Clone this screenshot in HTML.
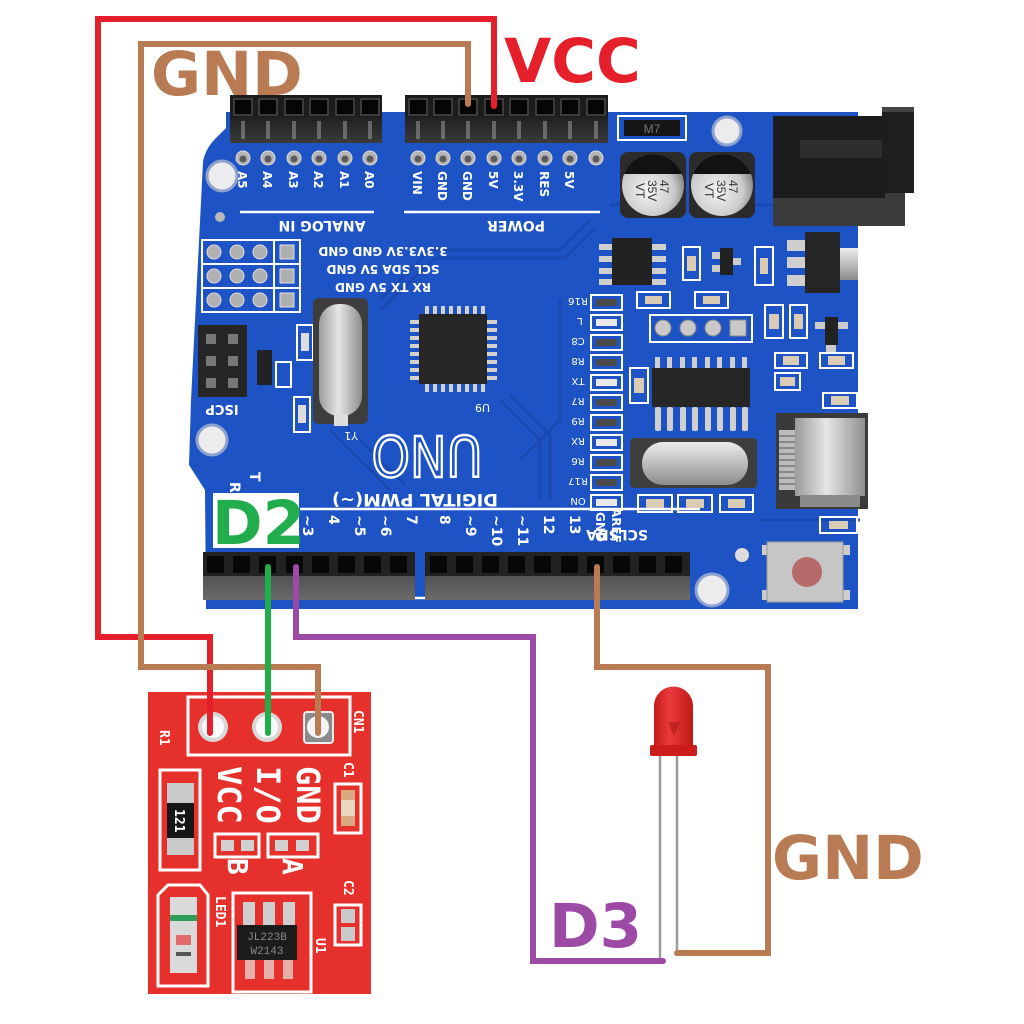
<!DOCTYPE html>
<html><head><meta charset="utf-8"><style>
html,body{margin:0;padding:0;background:#fff;}
svg{display:block;}
.lbl{font-family:"DejaVu Sans","Liberation Sans",sans-serif;font-weight:bold;}
.sk{font-family:"DejaVu Sans","Liberation Sans",sans-serif;fill:#fff;}
.mono{font-family:"DejaVu Sans Mono","Liberation Mono",monospace;fill:#fff;font-weight:bold;}
</style></head><body>
<svg width="1024" height="1024" viewBox="0 0 1024 1024" xmlns="http://www.w3.org/2000/svg">
<defs>
<linearGradient id="silv" x1="0" y1="0" x2="0" y2="1"><stop offset="0" stop-color="#ececec"/><stop offset="0.5" stop-color="#bdbdbd"/><stop offset="1" stop-color="#8c8c8c"/></linearGradient>
<linearGradient id="silvh" x1="0" y1="0" x2="1" y2="0"><stop offset="0" stop-color="#9a9a9a"/><stop offset="0.45" stop-color="#e6e6e6"/><stop offset="1" stop-color="#8e8e8e"/></linearGradient>
<radialGradient id="cap" cx="0.42" cy="0.6" r="0.6"><stop offset="0" stop-color="#f4f4f4"/><stop offset="0.7" stop-color="#cbcbcb"/><stop offset="1" stop-color="#8a8a8a"/></radialGradient>
<linearGradient id="ledg" x1="0" y1="0" x2="1" y2="0"><stop offset="0" stop-color="#c41a1a"/><stop offset="0.4" stop-color="#ea3b3b"/><stop offset="1" stop-color="#c01818"/></linearGradient>
<linearGradient id="hdr" x1="0" y1="0" x2="0" y2="1"><stop offset="0" stop-color="#3c3c3c"/><stop offset="1" stop-color="#6a6a6a"/></linearGradient>
<linearGradient id="hdrt" x1="0" y1="0" x2="0" y2="1"><stop offset="0" stop-color="#202020"/><stop offset="1" stop-color="#3a3a3a"/></linearGradient>
</defs>
<rect width="1024" height="1024" fill="#fff"/>

<!-- ===== ARDUINO BOARD ===== -->
<path d="M226,112 L858,112 L858,609 L206,609 L205,490 L189,465 L191,400 L203,162 Q205,150 214,140 L226,128 Z" fill="#1e53c5"/>
<g stroke="#1a48b0" stroke-width="3" fill="none" opacity="0.9">
<path d="M380,300 L430,250 L560,250 L590,220"/>
<path d="M380,310 L435,258 L565,258 L595,228"/>
<path d="M500,400 L540,440 L540,500"/>
<path d="M510,395 L550,435 L550,500"/>
<path d="M330,430 L390,490"/><path d="M345,425 L405,485"/>
<path d="M560,300 L560,420 L520,460"/>
<path d="M760,520 L860,520"/>
<path d="M610,205 L780,205"/>
</g>
<g stroke="#fff" stroke-width="2.5">
<line x1="240" y1="212" x2="374" y2="212"/>
<line x1="404" y1="212" x2="600" y2="212"/>
<line x1="300" y1="509" x2="700" y2="509"/>
<line x1="210" y1="598" x2="690" y2="598"/>
</g>

<circle cx="222" cy="176" r="15" fill="#ececec" stroke="#8ea2cf" stroke-width="3"/>
<circle cx="212" cy="440" r="15" fill="#ececec" stroke="#8ea2cf" stroke-width="3"/>
<circle cx="727" cy="131" r="14" fill="#ececec" stroke="#8ea2cf" stroke-width="3"/>
<circle cx="712" cy="590" r="16" fill="#ececec" stroke="#8ea2cf" stroke-width="3"/>
<circle cx="220" cy="217" r="5" fill="#b8b8b8"/>
<circle cx="742" cy="555" r="7" fill="#dcdcdc"/>

<rect x="230" y="95" width="152" height="48" fill="#1c1c1c"/>
<rect x="230" y="117" width="152" height="26" fill="url(#hdrt)"/>
<rect x="405" y="95" width="203" height="48" fill="#1c1c1c"/>
<rect x="405" y="117" width="203" height="26" fill="url(#hdrt)"/>
<g fill="#060606" stroke="#4a4a4a" stroke-width="1.5">
<rect x="234" y="99" width="18" height="16"/><rect x="259" y="99" width="18" height="16"/><rect x="285" y="99" width="18" height="16"/><rect x="310" y="99" width="18" height="16"/><rect x="336" y="99" width="18" height="16"/><rect x="361" y="99" width="18" height="16"/>
<rect x="409" y="99" width="18" height="16"/><rect x="434" y="99" width="18" height="16"/><rect x="459" y="99" width="18" height="16"/><rect x="485" y="99" width="18" height="16"/><rect x="510" y="99" width="18" height="16"/><rect x="536" y="99" width="18" height="16"/><rect x="561" y="99" width="18" height="16"/><rect x="587" y="99" width="18" height="16"/>
</g>
<g fill="#9a9a9a" opacity="0.55">
<rect x="241" y="121" width="4" height="18"/><rect x="266" y="121" width="4" height="18"/><rect x="292" y="121" width="4" height="18"/><rect x="317" y="121" width="4" height="18"/><rect x="343" y="121" width="4" height="18"/><rect x="368" y="121" width="4" height="18"/>
<rect x="416" y="121" width="4" height="18"/><rect x="441" y="121" width="4" height="18"/><rect x="466" y="121" width="4" height="18"/><rect x="492" y="121" width="4" height="18"/><rect x="517" y="121" width="4" height="18"/><rect x="543" y="121" width="4" height="18"/><rect x="568" y="121" width="4" height="18"/><rect x="594" y="121" width="4" height="18"/>
</g>
<g fill="#b4b4b4" stroke="#dcdcdc" stroke-width="1">
<circle cx="243" cy="158" r="7"/><circle cx="268" cy="158" r="7"/><circle cx="294" cy="158" r="7"/><circle cx="319" cy="158" r="7"/><circle cx="345" cy="158" r="7"/><circle cx="370" cy="158" r="7"/>
<circle cx="418" cy="158" r="7"/><circle cx="443" cy="158" r="7"/><circle cx="468" cy="158" r="7"/><circle cx="494" cy="158" r="7"/><circle cx="519" cy="158" r="7"/><circle cx="545" cy="158" r="7"/><circle cx="570" cy="158" r="7"/><circle cx="596" cy="158" r="7"/>
</g>
<g fill="#5a5a5a">
<circle cx="243" cy="159" r="3.5"/><circle cx="268" cy="159" r="3.5"/><circle cx="294" cy="159" r="3.5"/><circle cx="319" cy="159" r="3.5"/><circle cx="345" cy="159" r="3.5"/><circle cx="370" cy="159" r="3.5"/>
<circle cx="418" cy="159" r="3.5"/><circle cx="443" cy="159" r="3.5"/><circle cx="468" cy="159" r="3.5"/><circle cx="494" cy="159" r="3.5"/><circle cx="519" cy="159" r="3.5"/><circle cx="545" cy="159" r="3.5"/><circle cx="570" cy="159" r="3.5"/><circle cx="596" cy="159" r="3.5"/>
</g>
<g class="sk" font-size="12" font-weight="bold">
<text transform="translate(238,171) rotate(90)">A5</text>
<text transform="translate(263,171) rotate(90)">A4</text>
<text transform="translate(289,171) rotate(90)">A3</text>
<text transform="translate(314,171) rotate(90)">A2</text>
<text transform="translate(340,171) rotate(90)">A1</text>
<text transform="translate(365,171) rotate(90)">A0</text>
<text transform="translate(413,171) rotate(90)">VIN</text>
<text transform="translate(438,171) rotate(90)">GND</text>
<text transform="translate(463,171) rotate(90)">GND</text>
<text transform="translate(489,171) rotate(90)">5V</text>
<text transform="translate(514,171) rotate(90)">3.3V</text>
<text transform="translate(540,171) rotate(90)">RES</text>
<text transform="translate(565,171) rotate(90)">5V</text>
</g>
<g class="sk" font-size="14" font-weight="bold" text-anchor="middle">
<text x="322" y="231" transform="rotate(180 322 226)">ANALOG IN</text>
<text x="516" y="231" transform="rotate(180 516 226)">POWER</text>
</g>

<g fill="none" stroke="#fff" stroke-width="2">
<rect x="202" y="240" width="98" height="72"/>
<line x1="202" y1="264" x2="300" y2="264"/><line x1="202" y1="288" x2="300" y2="288"/>
<line x1="274" y1="240" x2="274" y2="312"/>
</g>
<g fill="#b0b0b0" stroke="#e0e0e0">
<circle cx="214" cy="252" r="7"/><circle cx="237" cy="252" r="7"/><circle cx="260" cy="252" r="7"/>
<circle cx="214" cy="276" r="7"/><circle cx="237" cy="276" r="7"/><circle cx="260" cy="276" r="7"/>
<circle cx="214" cy="300" r="7"/><circle cx="237" cy="300" r="7"/><circle cx="260" cy="300" r="7"/>
<rect x="280" y="245" width="14" height="14"/><rect x="280" y="269" width="14" height="14"/><rect x="280" y="293" width="14" height="14"/>
</g>
<g class="sk" font-size="12" font-weight="bold" text-anchor="middle">
<text x="383" y="257" transform="rotate(180 383 252)">3.3V3.3V GND GND</text>
<text x="383" y="275" transform="rotate(180 383 270)">SCL SDA 5V GND</text>
<text x="383" y="293" transform="rotate(180 383 288)">RX  TX  5V GND</text>
</g>

<rect x="198" y="325" width="49" height="72" fill="#262626"/>
<g fill="#777"><rect x="206" y="334" width="10" height="10"/><rect x="228" y="334" width="10" height="10"/><rect x="206" y="356" width="10" height="10"/><rect x="228" y="356" width="10" height="10"/><rect x="206" y="378" width="10" height="10"/><rect x="228" y="378" width="10" height="10"/></g>
<text class="sk" font-size="13" font-weight="bold" x="222" y="415" text-anchor="middle" transform="rotate(180 222 410)">ISCP</text>
<rect x="257" y="350" width="15" height="35" fill="#222"/>
<rect x="276" y="362" width="15" height="25" fill="none" stroke="#fff" stroke-width="2"/>
<rect x="297" y="325" width="16" height="35" fill="none" stroke="#fff" stroke-width="2"/><rect x="301" y="333" width="8" height="18" fill="#ddd"/>
<rect x="294" y="397" width="16" height="35" fill="none" stroke="#fff" stroke-width="2"/><rect x="298" y="405" width="8" height="18" fill="#ddd"/>
<rect x="313" y="298" width="55" height="126" rx="6" fill="#3d3d3d"/>
<rect x="319" y="304" width="43" height="112" rx="20" fill="url(#silvh)"/>
<rect x="334" y="414" width="14" height="12" fill="#ddd"/>

<g fill="#d0d0d0">
<rect x="425" y="306" width="4" height="9"/><rect x="433" y="306" width="4" height="9"/><rect x="441" y="306" width="4" height="9"/><rect x="449" y="306" width="4" height="9"/><rect x="457" y="306" width="4" height="9"/><rect x="465" y="306" width="4" height="9"/><rect x="473" y="306" width="4" height="9"/><rect x="481" y="306" width="4" height="9"/>
<rect x="425" y="383" width="4" height="9"/><rect x="433" y="383" width="4" height="9"/><rect x="441" y="383" width="4" height="9"/><rect x="449" y="383" width="4" height="9"/><rect x="457" y="383" width="4" height="9"/><rect x="465" y="383" width="4" height="9"/><rect x="473" y="383" width="4" height="9"/><rect x="481" y="383" width="4" height="9"/>
<rect x="410" y="320" width="10" height="4"/><rect x="410" y="328" width="10" height="4"/><rect x="410" y="336" width="10" height="4"/><rect x="410" y="344" width="10" height="4"/><rect x="410" y="352" width="10" height="4"/><rect x="410" y="360" width="10" height="4"/><rect x="410" y="368" width="10" height="4"/><rect x="410" y="376" width="10" height="4"/>
<rect x="487" y="320" width="10" height="4"/><rect x="487" y="328" width="10" height="4"/><rect x="487" y="336" width="10" height="4"/><rect x="487" y="344" width="10" height="4"/><rect x="487" y="352" width="10" height="4"/><rect x="487" y="360" width="10" height="4"/><rect x="487" y="368" width="10" height="4"/><rect x="487" y="376" width="10" height="4"/>
</g>
<rect x="419" y="314" width="68" height="70" fill="#262626"/>
<text class="sk" font-size="11" x="490" y="412" transform="rotate(180 490 408)">U9</text>
<text class="sk" font-size="11" x="358" y="440" transform="rotate(180 358 436)">Y1</text>

<text x="427" y="478" text-anchor="middle" font-family="DejaVu Sans, Liberation Sans, sans-serif" font-size="56" fill="none" stroke="#fff" stroke-width="2.5" textLength="111" lengthAdjust="spacingAndGlyphs" transform="rotate(180 427 457)">UNO</text>
<text class="sk" font-size="17" font-weight="bold" x="415" y="506" text-anchor="middle" textLength="166" lengthAdjust="spacingAndGlyphs" transform="rotate(180 415 500)">DIGITAL PWM(~)</text>
<g class="sk" font-size="14" font-weight="bold">
<text transform="translate(303,515) rotate(90)">~3</text>
<text transform="translate(329,515) rotate(90)">4</text>
<text transform="translate(355,515) rotate(90)">~5</text>
<text transform="translate(381,515) rotate(90)">~6</text>
<text transform="translate(407,515) rotate(90)">7</text>
<text transform="translate(440,515) rotate(90)">8</text>
<text transform="translate(466,515) rotate(90)">~9</text>
<text transform="translate(492,515) rotate(90)">~10</text>
<text transform="translate(518,515) rotate(90)">~11</text>
<text transform="translate(544,515) rotate(90)">12</text>
<text transform="translate(570,515) rotate(90)">13</text>
<text transform="translate(596,512) rotate(90)" font-size="12">GND</text>
<text transform="translate(612,508) rotate(90)" font-size="12">AREF</text>
<text class="sk" x="648" y="540" font-size="14" transform="rotate(180 648 535)">SCLSDA</text>
<text transform="translate(230,482) rotate(90)">R</text>
<text transform="translate(250,472) rotate(90)">T</text>
</g>

<rect x="618" y="116" width="68" height="24" fill="none" stroke="#fff" stroke-width="2"/>
<rect x="624" y="120" width="56" height="16" fill="#151515"/>
<text x="652" y="133" font-size="12" fill="#777" text-anchor="middle" font-family="Liberation Sans, sans-serif">M7</text>
<rect x="620" y="152" width="66" height="66" rx="8" fill="#2b2b2b"/>
<circle cx="653" cy="185" r="31" fill="url(#cap)"/>
<path d="M624,174 A31,31 0 0 1 682,174 Z" fill="#121212"/>
<rect x="689" y="152" width="66" height="66" rx="8" fill="#2b2b2b"/>
<circle cx="722" cy="185" r="31" fill="url(#cap)"/>
<path d="M693,174 A31,31 0 0 1 751,174 Z" fill="#121212"/>
<g font-family="Liberation Sans, sans-serif" font-size="12" fill="#333">
<text transform="translate(660,180) rotate(90)">47</text>
<text transform="translate(648,180) rotate(90)">35V</text>
<text transform="translate(636,183) rotate(90)">VT</text>
<text transform="translate(729,180) rotate(90)">47</text>
<text transform="translate(717,180) rotate(90)">35V</text>
<text transform="translate(705,183) rotate(90)">VT</text>
</g>

<rect x="773" y="188" width="132" height="38" fill="#3b3b3b"/>
<rect x="773" y="116" width="112" height="82" fill="#1c1c1c"/>
<rect x="800" y="140" width="82" height="18" fill="#333" opacity="0.8"/>
<rect x="882" y="107" width="32" height="86" fill="#1e1e1e"/>
<rect x="882" y="107" width="32" height="5" fill="#444"/>

<rect x="612" y="238" width="40" height="47" fill="#222"/>
<g fill="#cfcfcf">
<rect x="599" y="244" width="13" height="6"/><rect x="599" y="256" width="13" height="6"/><rect x="599" y="268" width="13" height="6"/><rect x="599" y="279" width="13" height="6"/>
<rect x="652" y="244" width="14" height="6"/><rect x="652" y="256" width="14" height="6"/><rect x="652" y="268" width="14" height="6"/><rect x="652" y="279" width="14" height="6"/>
</g>
<g fill="none" stroke="#fff" stroke-width="2">
<rect x="683" y="247" width="17" height="33"/>
<rect x="755" y="247" width="18" height="38"/>
<rect x="637" y="292" width="33" height="16"/>
<rect x="695" y="292" width="33" height="16"/>
<rect x="650" y="315" width="102" height="27"/>
<rect x="765" y="305" width="18" height="33"/>
<rect x="790" y="305" width="17" height="33"/>
<rect x="775" y="353" width="32" height="15"/>
<rect x="820" y="353" width="33" height="15"/>
<rect x="775" y="373" width="25" height="17"/>
<rect x="823" y="393" width="34" height="15"/>
<rect x="630" y="368" width="18" height="35"/>
<rect x="638" y="495" width="34" height="17"/>
<rect x="678" y="495" width="34" height="17"/>
<rect x="720" y="495" width="33" height="17"/>
<rect x="820" y="517" width="37" height="16"/>
</g>
<g fill="#d9cbb4">
<rect x="687" y="256" width="9" height="15"/><rect x="760" y="258" width="8" height="16"/>
<rect x="645" y="296" width="17" height="8"/><rect x="703" y="296" width="17" height="8"/>
<rect x="769" y="314" width="10" height="15"/><rect x="794" y="314" width="9" height="15"/>
<rect x="783" y="356" width="16" height="9"/><rect x="828" y="356" width="17" height="9"/>
<rect x="780" y="377" width="15" height="9"/><rect x="831" y="396" width="18" height="9"/>
<rect x="634" y="378" width="10" height="15"/>
<rect x="646" y="499" width="18" height="9"/><rect x="686" y="499" width="18" height="9"/><rect x="728" y="499" width="17" height="9"/>
<rect x="829" y="521" width="19" height="8"/>
</g>
<rect x="720" y="248" width="13" height="27" fill="#222"/>
<rect x="712" y="252" width="8" height="7" fill="#ccc"/><rect x="712" y="265" width="8" height="7" fill="#ccc"/><rect x="733" y="258" width="8" height="7" fill="#ccc"/>
<rect x="805" y="232" width="35" height="61" fill="#252525"/>
<g fill="#cfcfcf"><rect x="787" y="240" width="18" height="11"/><rect x="787" y="257" width="18" height="11"/><rect x="787" y="275" width="18" height="11"/></g>
<rect x="840" y="248" width="18" height="32" fill="url(#silv)"/>
<g fill="#c9c9c9" stroke="#888"><circle cx="663" cy="328" r="8"/><circle cx="688" cy="328" r="8"/><circle cx="713" cy="328" r="8"/><rect x="730" y="320" width="16" height="16"/></g>
<rect x="825" y="317" width="13" height="28" fill="#222"/>
<rect x="815" y="322" width="10" height="7" fill="#ccc"/><rect x="838" y="322" width="10" height="7" fill="#ccc"/><rect x="826" y="345" width="10" height="7" fill="#ccc"/>

<g fill="none" stroke="#fff" stroke-width="2">
<rect x="591" y="295" width="31" height="15"/><rect x="591" y="315" width="31" height="15"/><rect x="591" y="335" width="31" height="15"/><rect x="591" y="355" width="31" height="15"/><rect x="591" y="375" width="31" height="15"/><rect x="591" y="395" width="31" height="15"/><rect x="591" y="415" width="31" height="15"/><rect x="591" y="435" width="31" height="15"/><rect x="591" y="455" width="31" height="15"/><rect x="591" y="475" width="31" height="15"/><rect x="591" y="495" width="31" height="15"/>
</g>
<g fill="#e9e9e9">
<rect x="596" y="319" width="21" height="7"/><rect x="596" y="379" width="21" height="7"/><rect x="596" y="439" width="21" height="7"/><rect x="596" y="499" width="21" height="7"/>
</g>
<g fill="#4a4a4a">
<rect x="596" y="299" width="21" height="7"/><rect x="596" y="339" width="21" height="7"/><rect x="596" y="359" width="21" height="7"/><rect x="596" y="399" width="21" height="7"/><rect x="596" y="419" width="21" height="7"/><rect x="596" y="459" width="21" height="7"/><rect x="596" y="479" width="21" height="7"/>
</g>
<g class="sk" font-size="10" text-anchor="middle">
<text x="578" y="306" transform="rotate(180 578 302)">R16</text>
<text x="580" y="326" transform="rotate(180 580 322)">L</text>
<text x="578" y="346" transform="rotate(180 578 342)">C8</text>
<text x="578" y="366" transform="rotate(180 578 362)">R8</text>
<text x="578" y="386" transform="rotate(180 578 382)">TX</text>
<text x="578" y="406" transform="rotate(180 578 402)">R7</text>
<text x="578" y="426" transform="rotate(180 578 422)">R9</text>
<text x="578" y="446" transform="rotate(180 578 442)">RX</text>
<text x="578" y="466" transform="rotate(180 578 462)">R6</text>
<text x="578" y="486" transform="rotate(180 578 482)">R17</text>
<text x="578" y="506" transform="rotate(180 578 502)">ON</text>
</g>

<g fill="#cfcfcf">
<rect x="655" y="357" width="5" height="13"/><rect x="667" y="357" width="5" height="13"/><rect x="680" y="357" width="5" height="13"/><rect x="692" y="357" width="5" height="13"/><rect x="705" y="357" width="5" height="13"/><rect x="717" y="357" width="5" height="13"/><rect x="730" y="357" width="5" height="13"/><rect x="742" y="357" width="5" height="13"/>
<rect x="655" y="407" width="6" height="24" rx="2"/><rect x="667" y="407" width="6" height="24" rx="2"/><rect x="680" y="407" width="6" height="24" rx="2"/><rect x="692" y="407" width="6" height="24" rx="2"/><rect x="705" y="407" width="6" height="24" rx="2"/><rect x="717" y="407" width="6" height="24" rx="2"/><rect x="730" y="407" width="6" height="24" rx="2"/><rect x="742" y="407" width="6" height="24" rx="2"/>
</g>
<rect x="652" y="368" width="98" height="39" fill="#262626"/>
<rect x="630" y="438" width="127" height="50" rx="4" fill="#3e3e3e"/>
<rect x="642" y="442" width="106" height="43" rx="21" fill="url(#silv)"/>
<rect x="776" y="413" width="92" height="96" fill="#3a3a3a"/>
<rect x="795" y="418" width="70" height="78" fill="url(#silvh)"/>
<rect x="779" y="430" width="16" height="60" fill="#bbb"/>
<g stroke="#555" stroke-width="1"><line x1="779" y1="436" x2="795" y2="436"/><line x1="779" y1="442" x2="795" y2="442"/><line x1="779" y1="448" x2="795" y2="448"/><line x1="779" y1="454" x2="795" y2="454"/><line x1="779" y1="460" x2="795" y2="460"/><line x1="779" y1="466" x2="795" y2="466"/><line x1="779" y1="472" x2="795" y2="472"/><line x1="779" y1="478" x2="795" y2="478"/><line x1="779" y1="484" x2="795" y2="484"/></g>
<rect x="800" y="495" width="60" height="12" fill="#8a8a8a"/>
<rect x="762" y="545" width="10" height="10" fill="#ccc"/><rect x="840" y="545" width="10" height="10" fill="#ccc"/><rect x="762" y="590" width="10" height="10" fill="#ccc"/><rect x="840" y="590" width="10" height="10" fill="#ccc"/>
<rect x="767" y="542" width="76" height="60" fill="#c6c6c6" stroke="#9a9a9a"/>
<circle cx="807" cy="572" r="15" fill="#b66a6a"/>

<rect x="203" y="552" width="212" height="48" fill="url(#hdr)"/>
<rect x="203" y="552" width="212" height="24" fill="#222"/>
<rect x="425" y="552" width="265" height="48" fill="url(#hdr)"/>
<rect x="425" y="552" width="265" height="24" fill="#222"/>
<g fill="#070707">
<rect x="207" y="556" width="17" height="17"/><rect x="233" y="556" width="17" height="17"/><rect x="259" y="556" width="17" height="17"/><rect x="286" y="556" width="17" height="17"/><rect x="312" y="556" width="17" height="17"/><rect x="338" y="556" width="17" height="17"/><rect x="364" y="556" width="17" height="17"/><rect x="390" y="556" width="17" height="17"/>
<rect x="430" y="556" width="17" height="17"/><rect x="456" y="556" width="17" height="17"/><rect x="482" y="556" width="17" height="17"/><rect x="508" y="556" width="17" height="17"/><rect x="534" y="556" width="17" height="17"/><rect x="561" y="556" width="17" height="17"/><rect x="587" y="556" width="17" height="17"/><rect x="613" y="556" width="17" height="17"/><rect x="639" y="556" width="17" height="17"/><rect x="665" y="556" width="17" height="17"/>
</g>

<!-- ===== TOUCH SENSOR BOARD ===== -->
<rect x="148" y="692" width="223" height="302" fill="#e5302c"/>
<g fill="none" stroke="#fff" stroke-width="3">
<rect x="188" y="697" width="162" height="58"/>
<path d="M160,770 L200,770 L200,870 L160,870 Z"/>
<rect x="215" y="834" width="44" height="23"/>
<rect x="268" y="834" width="50" height="23"/>
<path d="M168,885 L200,885 L208,895 L208,986 L158,986 L158,895 Z"/>
<rect x="233" y="893" width="78" height="99"/>
<rect x="335" y="784" width="26" height="49"/>
<rect x="335" y="905" width="26" height="40"/>
</g>
<circle cx="213" cy="727" r="15" fill="#d8d8d8"/><circle cx="213" cy="727" r="11" fill="#fafafa"/>
<circle cx="267" cy="727" r="15" fill="#d8d8d8"/><circle cx="267" cy="727" r="11" fill="#fafafa"/>
<rect x="304" y="712" width="29" height="31" rx="3" fill="#8a8a8a" stroke="#eee" stroke-width="2"/><circle cx="318" cy="727" r="11" fill="#f5f5f5"/>
<g class="mono" font-size="32">
<text transform="translate(218,766) rotate(90)">VCC</text>
<text transform="translate(257,766) rotate(90)">I/O</text>
<text transform="translate(297,766) rotate(90)">GND</text>
<text transform="translate(228,858) rotate(90)" font-size="28">B</text>
<text transform="translate(283,858) rotate(90)" font-size="28">A</text>
</g>
<g class="mono" font-size="13">
<text transform="translate(354,710) rotate(90)">CN1</text>
<text transform="translate(160,730) rotate(90)">R1</text>
<text transform="translate(344,762) rotate(90)">C1</text>
<text transform="translate(344,880) rotate(90)">C2</text>
<text transform="translate(216,896) rotate(90)">LED1</text>
<text transform="translate(316,938) rotate(90)">U1</text>
</g>
<rect x="167" y="783" width="27" height="72" fill="#c9c9c9"/>
<rect x="167" y="803" width="27" height="35" fill="#161616"/>
<text class="mono" font-size="13" font-weight="normal" transform="translate(175,809) rotate(90)">121</text>
<g fill="#d0d0d0"><rect x="221" y="840" width="13" height="11"/><rect x="241" y="840" width="13" height="11"/><rect x="275" y="840" width="13" height="11"/><rect x="296" y="840" width="13" height="11"/></g>
<rect x="341" y="790" width="14" height="36" fill="#d8a880"/><rect x="341" y="800" width="14" height="16" fill="#e8d8c0"/>
<rect x="341" y="909" width="14" height="14" fill="#c9c9c9"/><rect x="341" y="927" width="14" height="14" fill="#c9c9c9"/>
<rect x="170" y="897" width="27" height="76" fill="#dadada"/>
<rect x="170" y="915" width="27" height="6" fill="#2f9e5a"/>
<rect x="176" y="935" width="15" height="10" fill="#e56a6a"/>
<rect x="176" y="952" width="15" height="4" fill="#555"/>
<g fill="#cfcfcf"><rect x="243" y="902" width="12" height="24"/><rect x="263" y="902" width="12" height="24"/><rect x="283" y="902" width="12" height="24"/></g>
<g fill="#e6b0a8"><rect x="245" y="959" width="10" height="20"/><rect x="264" y="959" width="10" height="20"/><rect x="283" y="959" width="10" height="20"/></g>
<rect x="237" y="925" width="60" height="35" fill="#1c1c1c"/>
<g font-family="Liberation Mono, monospace" font-size="11" fill="#8a8a8a" text-anchor="middle"><text x="267" y="940">JL223B</text><text x="267" y="954">W2143</text></g>

<!-- ===== LED ===== -->
<line x1="660" y1="755" x2="660" y2="961" stroke="#9a9a9a" stroke-width="2.5"/>
<line x1="677" y1="755" x2="677" y2="953" stroke="#9a9a9a" stroke-width="2.5"/>
<path d="M654,748 L654,706 A19.5,19.5 0 0 1 693,706 L693,748 Z" fill="url(#ledg)"/>
<rect x="650" y="745" width="47" height="11" rx="2" fill="#cc1c1c"/>
<path d="M668,722 L680,722 L674,736 Z" fill="#a01010" opacity="0.5"/>

<!-- ===== WIRES ===== -->
<g fill="none" stroke-width="6" stroke-linecap="round" stroke-linejoin="miter">
<path d="M494,106 L494,19 L98,19 L98,637 L210,637 L210,733" stroke="#e5202b"/>
<path d="M468,104 L468,44 L141,44 L141,667 L318,667 L318,733" stroke="#b97b54"/>
<path d="M268,567 L268,733" stroke="#22ad4c"/>
<path d="M296,567 L296,637 L533,637 L533,961 L663,961" stroke="#9d4aa6"/>
<path d="M597,567 L597,667 L768,667 L768,953 L677,953" stroke="#b97b54"/>
</g>

<!-- ===== LABELS ===== -->
<rect x="213" y="493" width="86" height="55" fill="#fff"/>
<g class="lbl" font-size="61">
<text x="151" y="95" fill="#b97b54">GND</text>
<text x="504" y="82" fill="#e5202b">VCC</text>
<text x="212" y="544" fill="#22ad4c">D2</text>
<text x="549" y="947" fill="#9d4aa6">D3</text>
<text x="772" y="879" fill="#b97b54">GND</text>
</g>
</svg>
</body></html>
